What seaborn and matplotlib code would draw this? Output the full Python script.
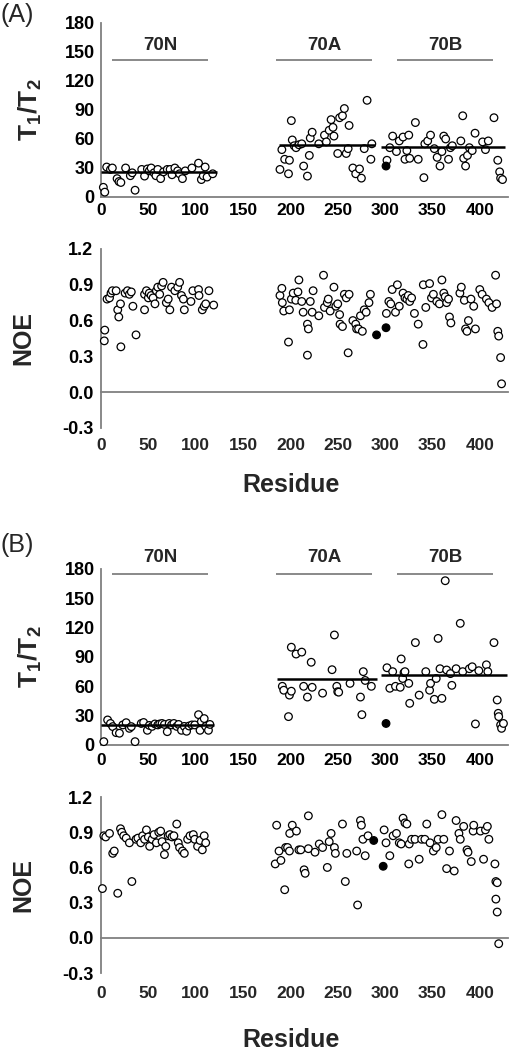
import numpy as np
import pandas as pd
import matplotlib
matplotlib.use("Agg")
import matplotlib.pyplot as plt
import seaborn as sns

sns.set_theme(style="white")
plt.rcParams["font.family"] = ["Liberation Sans", "DejaVu Sans"]
plt.rcParams["font.weight"] = "bold"
plt.rcParams["axes.unicode_minus"] = False
plt.rcParams["mathtext.fontset"] = "custom"
plt.rcParams["mathtext.rm"] = "Liberation Sans"
plt.rcParams["mathtext.bf"] = "Liberation Sans:bold"

GRAY = "#808080"

# ---- data ----
domains = ["70N", "70A", "70B"]
domain_start = [12, 185, 313]
domain_end = [113, 286, 414]

x_ticks = [0, 50, 100, 150, 200, 250, 300, 350, 400]
t_ticks = [0, 30, 60, 90, 120, 150, 180]
noe_ticks = [-0.3, 0.0, 0.3, 0.6, 0.9, 1.2]

# panel A, T1/T2
res_a_t = [2.5, 4, 6, 10, 12, 17, 19, 21, 26, 31, 33, 36, 43, 46, 49, 51, 53, 56, 58, 60,
           63, 66, 70, 73, 75, 78, 81, 83, 86, 89, 96, 103, 106, 108, 110, 112, 118,
           189, 191, 194, 198, 199, 201, 202, 204, 206, 209, 212, 214, 218, 220, 221, 223, 230, 236, 238, 241,
           243, 245, 246, 250, 252, 255, 257, 259, 261, 262, 266, 269, 273, 275, 278, 281, 285, 286,
           302, 305, 308, 312, 315, 319, 321, 323, 325, 326, 332, 335, 341, 342, 345, 348, 352, 355, 358, 360,
           362, 364, 367, 369, 371, 380, 382, 383, 385, 387, 389, 392, 395, 403, 406, 409, 415, 419, 421, 422, 424]
val_a_t = [10, 5, 31, 28.5, 30, 19, 16, 15, 30, 22, 25, 7, 28.5, 21.6, 29, 27, 30, 25, 22, 28.5,
           19, 26, 28.5, 28.5, 23, 30, 27, 24, 19, 27, 30, 35, 18, 22, 31, 20.6, 24,
           28.5, 49, 39, 24, 38, 79, 59, 53, 51, 54, 55, 32, 21.6, 43, 61, 67, 55, 64, 57, 69,
           80, 72, 63, 45, 82, 84, 91.5, 45, 50, 74, 30, 24, 29, 19.5, 50, 100, 39, 55,
           38, 51, 63, 47, 58, 62, 39, 48, 64, 40, 77, 39, 20, 55, 58, 64, 50, 41, 32, 47,
           63, 60, 39, 51, 53, 58, 84, 40, 32, 43, 51, 48, 66, 57, 49, 58, 82, 38, 26, 19.5, 18]
res_a_t_filled = [301]
val_a_t_filled = [32]
mean_a = [26, 54, 52]
mean_a_start = [0, 188, 296]
mean_a_end = [122, 289, 427]

# panel A, NOE
res_a_n = [3.5, 4, 6.4, 9, 10.6, 12, 16, 17.7, 18.8, 20.6, 21, 25.5, 28, 30, 32, 33.7, 37, 46, 46, 48,
           50, 51, 53, 55, 57, 58.5, 60, 62, 64, 65.6, 69, 71, 72.7, 74.5, 78, 81, 83, 85, 87, 88,
           95, 97, 103, 103.5, 107, 109, 110.6, 114, 119,
           189, 191, 191.5, 193, 198, 199, 201, 203, 205.7, 208, 209, 212, 213.5, 218, 219, 218, 221, 223, 224, 230,
           235, 236, 239, 240, 242, 246, 248, 250, 252, 252.5, 255, 257, 259, 261, 262, 266, 269, 270, 272, 274,
           276, 278, 280, 283, 284.5,
           301.4, 304, 306, 307.5, 311, 313, 315, 319, 321, 323, 324.5, 326, 328, 331, 335, 340, 340.4, 343, 347, 349,
           351, 354.6, 357.4, 360, 362, 363.5, 365, 367, 368, 369.5, 379, 380.5, 383.7, 385, 386.5, 388, 390.7, 393.6,
           395.4, 400, 402.5, 407, 409.6, 413, 416.7, 417.7, 419, 420, 422, 423]
val_a_n = [0.43, 0.52, 0.78, 0.79, 0.83, 0.85, 0.85, 0.69, 0.63, 0.74, 0.38, 0.83, 0.85, 0.82, 0.84, 0.72, 0.48, 0.69, 0.82, 0.85,
           0.79, 0.83, 0.81, 0.79, 0.74, 0.85, 0.88, 0.82, 0.89, 0.92, 0.75, 0.78, 0.69, 0.88, 0.85, 0.88, 0.92, 0.81, 0.78, 0.69,
           0.76, 0.85, 0.86, 0.81, 0.69, 0.72, 0.74, 0.85, 0.73,
           0.81, 0.87, 0.75, 0.68, 0.42, 0.69, 0.78, 0.83, 0.77, 0.84, 0.94, 0.76, 0.67, 0.57, 0.53, 0.31, 0.76, 0.67, 0.85, 0.64,
           0.98, 0.71, 0.75, 0.78, 0.68, 0.88, 0.72, 0.74, 0.65, 0.57, 0.55, 0.82, 0.79, 0.33, 0.82, 0.60, 0.57, 0.53, 0.53, 0.64,
           0.51, 0.69, 0.67, 0.75, 0.82,
           0.66, 0.76, 0.74, 0.86, 0.67, 0.90, 0.72, 0.83, 0.79, 0.78, 0.81, 0.76, 0.79, 0.66, 0.57, 0.40, 0.90, 0.71, 0.91, 0.79,
           0.82, 0.76, 0.74, 0.94, 0.83, 0.80, 0.75, 0.78, 0.63, 0.58, 0.83, 0.88, 0.77, 0.53, 0.51, 0.60, 0.78, 0.72,
           0.53, 0.86, 0.82, 0.78, 0.75, 0.71, 0.98, 0.74, 0.51, 0.47, 0.29, 0.07]
res_a_n_filled = [291, 301]
val_a_n_filled = [0.48, 0.54]

# panel B, T1/T2
res_b_t = [3, 7, 10, 12.4, 16, 19.5, 23, 26.6, 30, 32, 36, 42.5, 45, 49, 51, 54, 57, 60, 62, 64.5,
           67, 70, 72, 74.5, 77, 80, 82, 85, 88, 90.4, 93, 96, 99, 103, 104.6, 106, 109, 110.6, 113.5, 115,
           191.5, 193, 198, 199, 201, 201, 206, 212, 214, 218, 222, 223, 234, 244, 246.5, 249, 250, 251, 263, 274,
           275.5, 277, 279, 285.5,
           302, 305, 308, 311, 316, 317, 318.6, 320, 321, 325, 326, 332, 336, 343, 347, 348, 352, 354, 356, 358,
           360, 363.5, 365, 369, 370.5, 375, 379.4, 382, 389, 392, 395.4, 399, 407, 408.5, 415, 418.4, 419.5, 420,
           422, 423, 425]
val_b_t = [3.4, 25.6, 22, 18.8, 12.6, 12, 20.5, 22.8, 17, 18.8, 3.4, 22, 23, 15, 20, 19, 21.5, 20.5, 21.5, 22,
           21, 13.6, 22, 20.5, 22, 19, 21, 15, 19, 14, 19.4, 20.5, 20.5, 31, 15, 24, 27, 19, 15, 21,
           60, 56, 29, 51, 55, 100, 93, 95, 60, 49, 84.6, 59, 53, 77, 112.5, 60, 54.5, 54, 63, 49,
           31, 75, 66, 60,
           79, 58, 75, 60, 59, 88, 68, 74, 75, 63, 42.6, 104.7, 51, 75, 56, 63, 46.7, 68, 109, 78,
           47.7, 168, 76.7, 73, 61, 78, 124.4, 75, 78, 80, 21.5, 76, 82, 75, 104.7, 46, 32.4, 29,
           20.5, 17, 22]
res_b_t_filled = [301]
val_b_t_filled = [22]
mean_b = [20, 67.5, 71.6]
mean_b_start = [0, 186, 296]
mean_b_end = [119, 291, 429]

# panel B, NOE
res_b_n = [1.5, 3, 5, 9, 12.4, 14, 17.7, 20.6, 22, 24, 26.6, 30, 32.6, 37, 39, 42, 44, 46, 48, 50,
           51.4, 54, 56, 58.5, 61, 63, 64.5, 67, 68.4, 71, 72.7, 75, 77, 80, 81.6, 83, 86, 88, 91.5, 94,
           97.5, 99, 102, 104.6, 107, 109, 110.6,
           184, 185.5, 188, 190, 194, 195, 197, 199, 199.3, 202, 206.4, 209, 211, 214.5, 215.6, 219, 219, 226, 230.5, 234,
           239, 241, 243, 246.5, 247.5, 255, 258, 259.6, 270, 271, 274, 275, 276.6, 279, 282,
           299, 301, 305, 308.5, 312, 315, 317, 319, 321, 323, 325, 325.5, 328, 331.6, 336, 338.6, 342, 344, 347.5, 351,
           354, 356, 360, 362, 365, 368, 373, 375, 378, 379.4, 383, 386.5, 387.6, 391, 393, 393.6, 400.7, 404, 406, 408,
           409.6, 416, 417, 418.4, 417, 418.4, 420]
val_b_n = [0.42, 0.87, 0.86, 0.89, 0.72, 0.74, 0.38, 0.93, 0.90, 0.87, 0.85, 0.81, 0.48, 0.84, 0.85, 0.81, 0.87, 0.84, 0.92, 0.86,
           0.78, 0.84, 0.88, 0.81, 0.90, 0.91, 0.82, 0.71, 0.78, 0.87, 0.88, 0.86, 0.87, 0.97, 0.81, 0.77, 0.74, 0.72, 0.84, 0.87,
           0.88, 0.84, 0.78, 0.83, 0.75, 0.87, 0.81,
           0.63, 0.96, 0.74, 0.66, 0.41, 0.77, 0.77, 0.74, 0.89, 0.96, 0.91, 0.75, 0.75, 0.58, 0.55, 1.04, 0.76, 0.73, 0.80, 0.77,
           0.60, 0.82, 0.89, 0.77, 0.72, 0.97, 0.48, 0.72, 0.74, 0.28, 1.00, 0.96, 0.84, 0.70, 0.87,
           0.92, 0.81, 0.70, 0.87, 0.89, 0.81, 0.80, 1.02, 0.98, 0.97, 0.63, 0.80, 0.84, 0.84, 0.67, 0.84, 0.84, 0.97, 0.81, 0.74,
           0.77, 0.84, 1.05, 0.84, 0.59, 0.74, 0.57, 1.00, 0.89, 0.84, 0.95, 0.75, 0.73, 0.65, 0.91, 0.96, 0.91, 0.67, 0.92, 0.95,
           0.84, 0.63, 0.48, 0.47, 0.33, 0.22, -0.05]
res_b_n_filled = [288, 298]
val_b_n_filled = [0.83, 0.61]


def draw_points(ax, res, val, res_f, val_f):
    df = pd.DataFrame({"residue": res + res_f,
                       "value": val + val_f,
                       "filled": [False] * len(res) + [True] * len(res_f)})
    sns.scatterplot(data=df, x="residue", y="value", hue="filled",
                    palette={False: "white", True: "black"}, edgecolor="black",
                    linewidth=0.9, s=30, legend=False, ax=ax, clip_on=False, zorder=3)


def style_axis(ax):
    for side in ["top", "right"]:
        ax.spines[side].set_visible(False)
    for side in ["left", "bottom"]:
        ax.spines[side].set_color(GRAY)
        ax.spines[side].set_linewidth(1.3)
    ax.set_xlim(0, 430)
    ax.set_xlabel("")
    ax.set_ylabel("")
    ax.tick_params(colors=GRAY, labelcolor="black", width=1.1)


def t_panel(ax, res, val, res_f, val_f, means, m_start, m_end, bar_y, label_y, xpad):
    draw_points(ax, res, val, res_f, val_f)
    ax.hlines(means, m_start, m_end, color="black", lw=1.8, zorder=4)
    ax.hlines([bar_y] * 3, domain_start, domain_end, color=GRAY, lw=1.3, clip_on=False)
    for name, a, b in zip(domains, domain_start, domain_end):
        ax.text((a + b) / 2, label_y, name, ha="center", va="center", fontsize=13.5,
                fontweight="bold", clip_on=False)
    style_axis(ax)
    ax.set_ylim(0, 180)
    ax.set_yticks(t_ticks)
    ax.set_xticks(x_ticks)
    ax.tick_params(axis="y", length=3.5, pad=1, labelsize=13)
    ax.tick_params(axis="x", length=3.5, pad=xpad, labelsize=12.5)
    ax.set_ylabel(r"$\mathbf{T_1/T_2}$", fontsize=19)
    ax.yaxis.set_label_coords(-0.14, 0.5)


def noe_panel(ax, res, val, res_f, val_f, label_pad, resid_y):
    draw_points(ax, res, val, res_f, val_f)
    style_axis(ax)
    ax.set_ylim(-0.3, 1.2)
    ax.set_yticks(noe_ticks)
    ax.set_yticklabels([f"{t:.1f}" for t in noe_ticks])
    ax.spines["bottom"].set_position(("data", 0))
    ax.set_xticks(x_ticks)
    ax.tick_params(axis="x", length=4, labelbottom=False)
    ax.tick_params(axis="y", length=4, pad=1.5, labelsize=13)
    sec = ax.secondary_xaxis("bottom")
    sec.set_xticks(x_ticks)
    sec.tick_params(length=0, pad=label_pad, labelsize=12.5)
    sec.spines["bottom"].set_visible(False)
    ax.set_ylabel("NOE", fontsize=18, fontweight="bold")
    ax.yaxis.set_label_coords(-0.16, 0.5)
    ax.text(0.467, resid_y, "Residue", transform=ax.transAxes, ha="center", va="top",
            fontsize=18, fontweight="bold")


fig = plt.figure(figsize=(5.09, 10.5), dpi=100)
ax_at = fig.add_axes([0.1984, 0.8124, 0.80, 0.1657])
ax_an = fig.add_axes([0.1984, 0.5924, 0.80, 0.1705])
ax_bt = fig.add_axes([0.1984, 0.2905, 0.80, 0.1676])
ax_bn = fig.add_axes([0.1984, 0.0733, 0.80, 0.1676])

t_panel(ax_at, res_a_t, val_a_t, res_a_t_filled, val_a_t_filled,
        mean_a, mean_a_start, mean_a_end, bar_y=141.6, label_y=157, xpad=0.5)
noe_panel(ax_an, res_a_n, val_a_n, res_a_n_filled, val_a_n_filled, label_pad=7, resid_y=-0.25)
t_panel(ax_bt, res_b_t, val_b_t, res_b_t_filled, val_b_t_filled,
        mean_b, mean_b_start, mean_b_end, bar_y=175, label_y=192, xpad=2.5)
noe_panel(ax_bn, res_b_n, val_b_n, res_b_n_filled, val_b_n_filled, label_pad=9, resid_y=-0.31)

fig.text(0.0, 1 - 15 / 1050, "(A)", ha="left", va="center", fontsize=18, fontweight="normal")
fig.text(0.0, 1 - 545 / 1050, "(B)", ha="left", va="center", fontsize=18, fontweight="normal")

fig.savefig("out.png", dpi=100, facecolor="white")
